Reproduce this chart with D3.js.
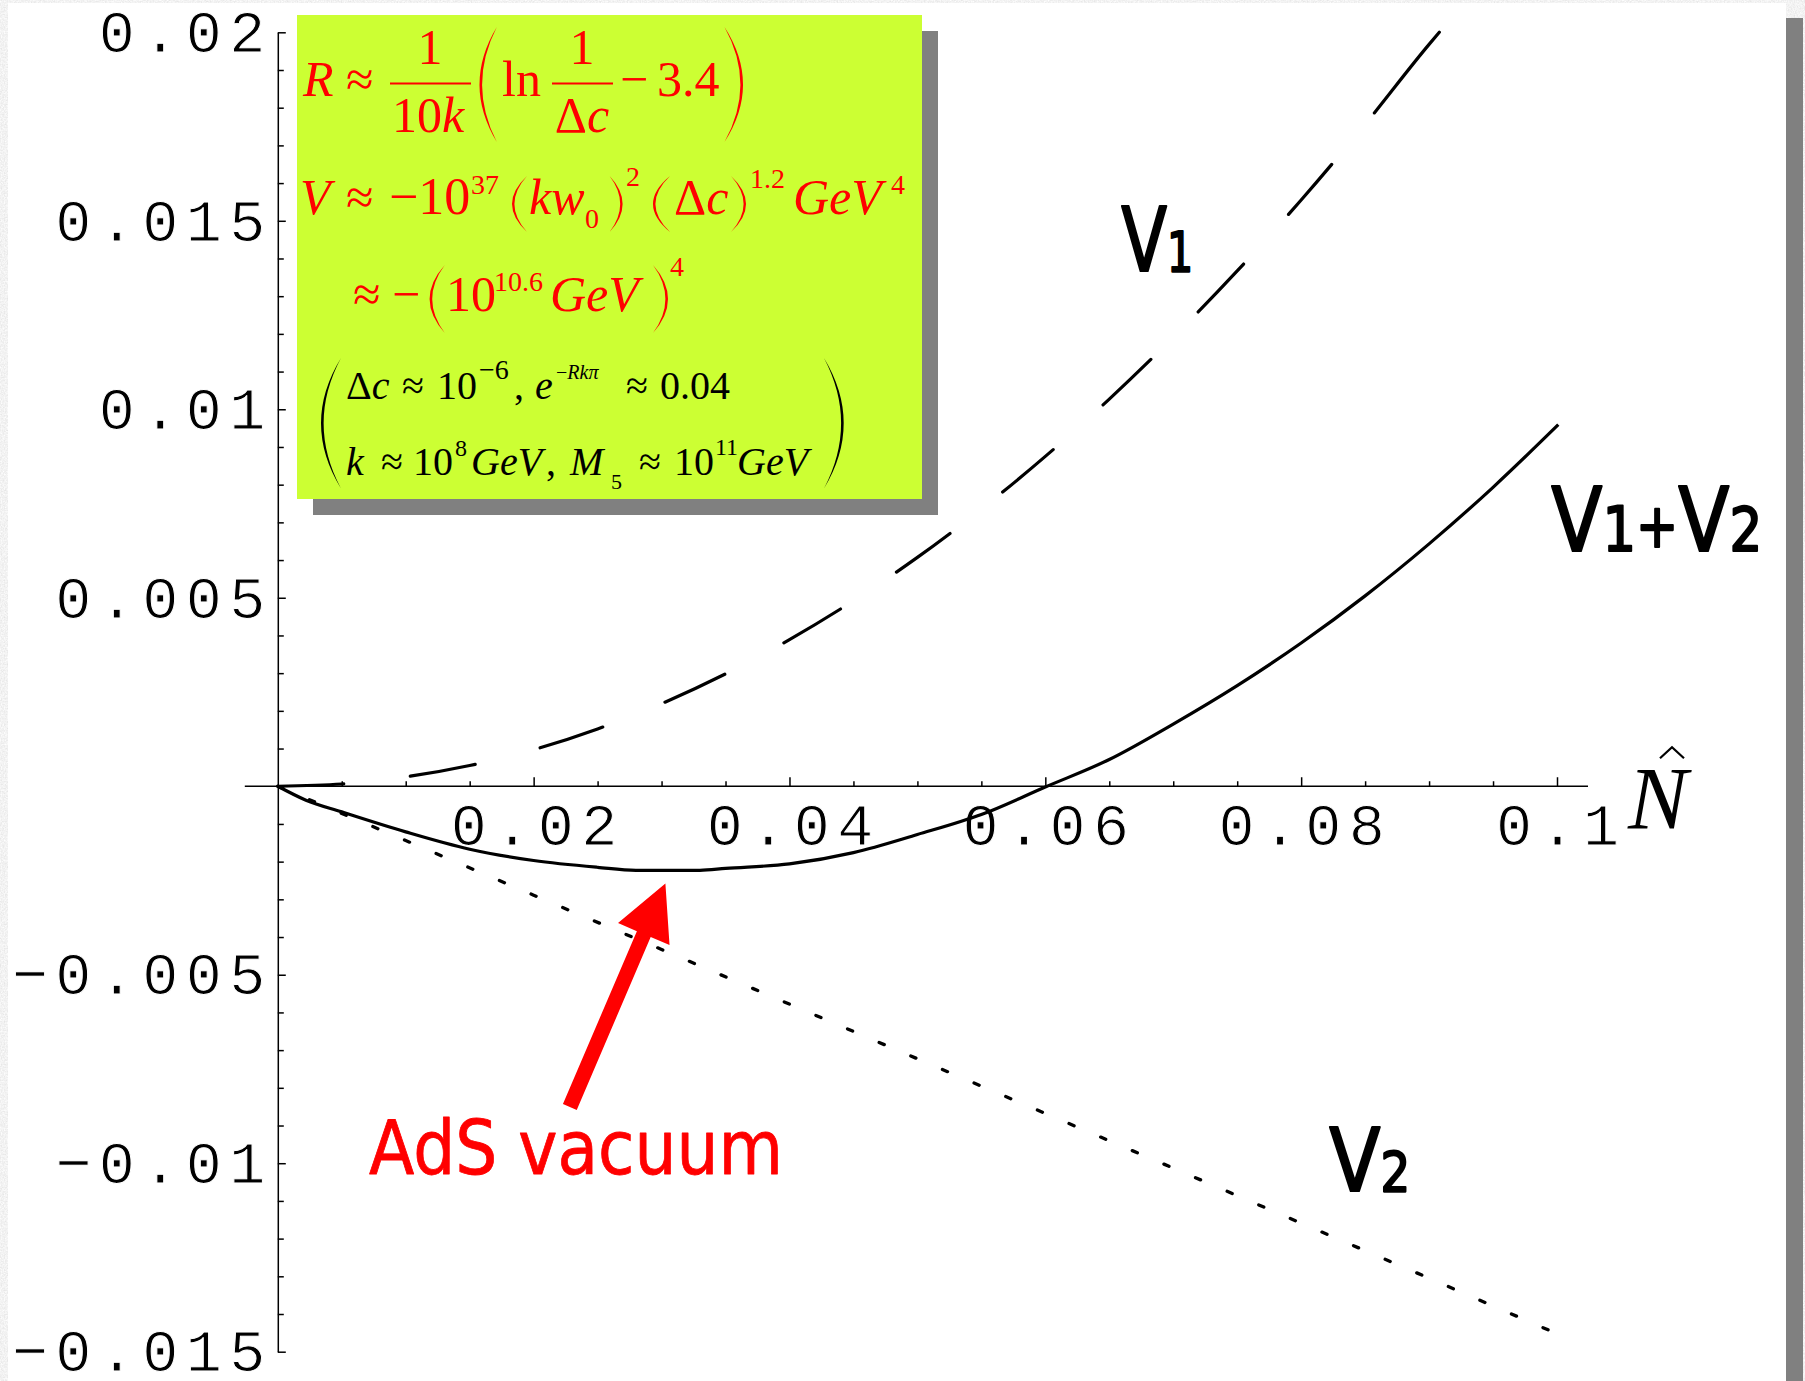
<!DOCTYPE html>
<html>
<head>
<meta charset="utf-8">
<script src="https://cdn.jsdelivr.net/npm/d3@7"></script>
<style>
  html, body { margin: 0; padding: 0; background: #e6e6e6; }
  svg { display: block; }
</style>
</head>
<body>
<svg id="chart" width="1805" height="1381"></svg>
<script>
// values
var v1X = [0, 0.005, 0.01, 0.015, 0.02, 0.025, 0.03, 0.035, 0.04, 0.045, 0.05, 0.055, 0.06, 0.065, 0.07, 0.075, 0.08, 0.085, 0.09, 0.0908];
var v1Y = [0, 0.00006, 0.00025, 0.00055, 0.00097, 0.00152, 0.00219, 0.00298, 0.00389, 0.00492, 0.00607, 0.00735, 0.00875, 0.01027, 0.01191, 0.01367, 0.01555, 0.01756, 0.01968, 0.02];

var v2X = [0, 0.01, 0.02, 0.03, 0.04, 0.05, 0.06, 0.07, 0.08, 0.09, 0.0993];
var v2Y = [0, -0.00144, -0.00289, -0.00433, -0.00578, -0.00723, -0.00868, -0.01013, -0.01159, -0.01305, -0.01442];

var sumX = [0, 0.0022, 0.005, 0.01, 0.015, 0.02, 0.025, 0.028, 0.033, 0.035, 0.04, 0.045, 0.05, 0.055, 0.06, 0.065, 0.07, 0.075, 0.08, 0.085, 0.09, 0.095, 0.1001];
var sumY = [0, -0.00037, -0.00068, -0.00121, -0.00167, -0.00197, -0.00215, -0.00223, -0.00223, -0.00218, -0.00206, -0.00176, -0.00128, -0.00075, -0.00002, 0.00071, 0.00165, 0.00267, 0.0038, 0.00505, 0.00643, 0.00793, 0.00959];

var xTicks = [0.02, 0.04, 0.06, 0.08, 0.1];
var xTickLabels = ["0.02", "0.04", "0.06", "0.08", "0.1"];
var yTicks = [-0.015, -0.01, -0.005, 0.005, 0.01, 0.015, 0.02];
var yTickLabels = ["\u22120.015", "\u22120.01", "\u22120.005", "0.005", "0.01", "0.015", "0.02"];

var svg = d3.select("#chart");

var x = d3.scaleLinear().domain([0, 0.1]).range([277.8, 1557]);
var y = d3.scaleLinear().domain([-0.015, 0.02]).range([1351.7, 32.3]);

var monoFont = "'Liberation Mono', 'Courier New', monospace";
var serif = "'Liberation Serif', 'Times New Roman', serif";
var hand = "'Comic Sans MS', 'DejaVu Sans', sans-serif";

// font size that gives a glyph the ink height seen in the picture
var ctx = document.createElement("canvas").getContext("2d");
function sizeFor(glyph, font, style, inkHeight) {
  ctx.font = (style || "") + " 100px " + font;
  var m = ctx.measureText(glyph);
  var h = m.actualBoundingBoxAscent + m.actualBoundingBoxDescent;
  return h > 0 ? 100 * inkHeight / h : 100 * inkHeight / 70;
}

// page: textured border, grey shadow bar, white sheet
var defs = svg.append("defs");
var f = defs.append("filter").attr("id", "tex").attr("x", 0).attr("y", 0).attr("width", 1).attr("height", 1);
f.append("feTurbulence").attr("type", "fractalNoise").attr("baseFrequency", 0.7).attr("numOctaves", 2).attr("seed", 3);
f.append("feColorMatrix").attr("type", "matrix")
  .attr("values", "0.3 0 0 0 0.74  0.3 0 0 0 0.74  0.3 0 0 0 0.74  0 0 0 0 1");
svg.append("rect").attr("width", 1805).attr("height", 1381).attr("filter", "url(#tex)");
svg.append("rect").attr("x", 1786).attr("y", 18).attr("width", 17).attr("height", 1363).attr("fill", "#808080");
svg.append("rect").attr("x", 8).attr("y", 3).attr("width", 1778).attr("height", 1378).attr("fill", "#fff");

// tick label font: digit height about 41px, character pitch about 43.5px
var tickSize = Math.min(72, Math.max(55, sizeFor("0", monoFont, "", 41.5)));
ctx.font = tickSize + "px " + monoFont;
var adv = ctx.measureText("0").width;
var pitch = 43.5;

// y axis
var gy = svg.append("g").attr("transform", "translate(" + x(0) + ",0)");
gy.call(d3.axisLeft(y).tickValues(yTicks).tickSizeInner(-8).tickSizeOuter(0).tickPadding(12.5)
  .tickFormat(function(d, i) { return yTickLabels[i]; }));
gy.append("g").call(d3.axisLeft(y).tickValues(d3.range(-15, 21).map(function(d) { return d / 1000; })
    .filter(function(d) { return Math.abs(Math.round(d * 1000) % 5) !== 0; }))
  .tickSizeInner(-6).tickSizeOuter(0).tickFormat(""))
  .select(".domain").remove();

// x axis
var gx = svg.append("g").attr("transform", "translate(0," + y(0) + ")");
gx.call(d3.axisBottom(x).tickValues(xTicks).tickSizeInner(-9).tickSizeOuter(0)
  .tickFormat(function(d, i) { return xTickLabels[i]; }));
gx.select(".domain").remove();
gx.selectAll(".tick text").attr("y", 59).attr("dy", 0);
gx.append("g").call(d3.axisBottom(x).tickValues(d3.range(1, 20).map(function(d) { return d * 0.005; })
    .filter(function(d, i) { return (i + 1) % 4 !== 0; }))
  .tickSizeInner(-5).tickSizeOuter(0).tickFormat(""))
  .select(".domain").remove();
gx.append("line").attr("x1", x(0) - 33).attr("x2", x(0.1) + 31).attr("stroke", "#000").attr("stroke-width", 1.6);

[gx, gy].forEach(function(g) {
  g.attr("font-family", monoFont).attr("font-size", tickSize);
  // white outline thins the glyphs toward the light screen font of the original
  g.selectAll(".tick text").attr("fill", "#000").attr("stroke", "#fff").attr("stroke-width", 1)
    .attr("textLength", function() { return (this.textContent.length - 1) * pitch + adv; })
    .attr("lengthAdjust", "spacing");
  g.selectAll("line, path").attr("stroke", "#000").attr("stroke-width", 1.5);
});

// N hat
svg.append("text").attr("x", x(0.1) + 71).attr("y", y(0) + 42)
  .attr("font-family", serif).attr("font-style", "italic")
  .attr("font-size", sizeFor("N", serif, "italic", 59)).text("N");
svg.append("path").attr("d", "M" + (x(0.1) + 103) + "," + (y(0) - 28) + " l12,-11 l12,11")
  .attr("fill", "none").attr("stroke", "#000").attr("stroke-width", 2.2);

// curves
function series(xs, ys) { return xs.map(function(d, i) { return [d, ys[i]]; }); }
var line = d3.line().x(function(d) { return x(d[0]); }).y(function(d) { return y(d[1]); });

var v2Path = svg.append("path").datum(series(v2X, v2Y)).attr("d", line.curve(d3.curveLinear))
  .attr("fill", "none").attr("stroke", "#000").attr("stroke-width", 3.3)
  .attr("stroke-linecap", "round");
var v1Path = svg.append("path").datum(series(v1X, v1Y)).attr("d", line.curve(d3.curveMonotoneX))
  .attr("fill", "none").attr("stroke", "#000").attr("stroke-width", 3.2)
  .attr("stroke-linecap", "round");
svg.append("path").datum(series(sumX, sumY)).attr("d", line.curve(d3.curveMonotoneX))
  .attr("fill", "none").attr("stroke", "#000").attr("stroke-width", 3.2);

// dotted V2: a dot sits at each end of the line
(function() {
  var L = v2Path.node().getTotalLength(), n = Math.round((L - 5.5) / 34), p = (L - 5.5) / n;
  v2Path.attr("stroke-dasharray", "5.5," + (p - 5.5));
})();
// dashed V1: the last dash runs to the end of the curve
(function() {
  var L = v1Path.node().getTotalLength(), n = Math.floor(L / 133), arr = [];
  for (var i = 0; i < n; i++) arr.push(66, 67);
  var r = L - n * 133;
  if (r > 30) arr.push(r + 2, 200);
  v1Path.attr("stroke-dasharray", arr.join(","));
})();

// curve labels: [text, ink height or fixed size, dy]
function label(sub, px, py, w, color, sw) {
  var c = color || "#000";
  var t = svg.append("text").attr("x", x(px)).attr("y", y(py)).attr("font-family", hand)
    .attr("fill", c).attr("stroke", c).attr("stroke-width", sw).attr("stroke-linejoin", "round")
    .attr("textLength", w).attr("lengthAdjust", "spacingAndGlyphs");
  sub.forEach(function(s) {
    var size = s[0] === "+" ? s[1] : sizeFor(s[0].charAt(0), hand, "", s[1]);
    var tp = t.append("tspan").attr("font-size", size).text(s[0]);
    if (s[2]) tp.attr("dy", s[2]);
  });
  return t;
}
label([["V", 65], ["1", 40]], 0.06593, 0.01368, 72, "#000", 2.2);
label([["V", 65], ["1", 46], ["+", 60, -4], ["V", 65, 4], ["2", 46]], 0.09955, 0.00624, 211, "#000", 2.2);
label([["V", 64], ["2", 41]], 0.0822, -0.01073, 81, "#000", 2.2);
label([["AdS vacuum", 54]], 0.00713, -0.01028, 414, "#ff0000", 0.8);

// arrow to the minimum
var arrowTail = [0.02283, -0.00851], arrowTip = [0.0303, -0.00258];
(function() {
  var T = [x(arrowTail[0]), y(arrowTail[1])], P = [x(arrowTip[0]), y(arrowTip[1])];
  var dx = P[0] - T[0], dy = P[1] - T[1], L = Math.sqrt(dx * dx + dy * dy);
  var u = [dx / L, dy / L], n = [-u[1], u[0]];
  var B = [P[0] - 55 * u[0], P[1] - 55 * u[1]];
  function pt(p, k) { return [p[0] + k * n[0], p[1] + k * n[1]]; }
  var pts = [pt(T, -7.5), pt(B, -7.5), pt(B, -28), P, pt(B, 28), pt(B, 7.5), pt(T, 7.5)];
  svg.append("polygon").attr("points", pts.map(function(p) { return p.join(","); }).join(" ")).attr("fill", "#ff0000");
})();

// formula box
svg.append("rect").attr("x", 313).attr("y", 31).attr("width", 625).attr("height", 484).attr("fill", "#808080");
svg.append("rect").attr("x", 297).attr("y", 15).attr("width", 625).attr("height", 484).attr("fill", "#ccff33");

var box = svg.append("g");
function piece(parts, px, py, size, color, anchor) {
  var t = box.append("text").attr("x", px).attr("y", py).attr("font-family", serif)
    .attr("font-size", size).attr("fill", color).attr("text-anchor", anchor || "start");
  parts.forEach(function(p) {
    t.append("tspan").attr("font-style", p[1] ? "italic" : "normal").text(p[0]);
  });
}
function paren(x0, x1, y0, y1, right, color, th) {
  var ym = (y0 + y1) / 2, d;
  if (!right) {
    d = "M" + x1 + "," + y0 + " Q" + (2 * x0 - x1) + "," + ym + " " + x1 + "," + y1 +
        " Q" + (2 * x0 - x1 + 2 * th) + "," + ym + " " + x1 + "," + y0 + "Z";
  } else {
    d = "M" + x0 + "," + y0 + " Q" + (2 * x1 - x0) + "," + ym + " " + x0 + "," + y1 +
        " Q" + (2 * x1 - x0 - 2 * th) + "," + ym + " " + x0 + "," + y0 + "Z";
  }
  box.append("path").attr("d", d).attr("fill", color);
}
var red = "#ff0000";

// line 1
piece([["R", 1]], 303, 96, 50, red);
piece([["\u2248", 0]], 346, 96, 50, red);
piece([["1", 0]], 430, 64, 50, red, "middle");
box.append("line").attr("x1", 390).attr("x2", 471).attr("y1", 83.5).attr("y2", 83.5).attr("stroke", red).attr("stroke-width", 2);
piece([["10", 0], ["k", 1]], 428, 131.5, 50, red, "middle");
paren(479.5, 496.8, 27, 142, false, red, 2.6);
piece([["ln", 0]], 502, 96, 50, red);
piece([["1", 0]], 582, 64, 50, red, "middle");
box.append("line").attr("x1", 552).attr("x2", 613).attr("y1", 83.5).attr("y2", 83.5).attr("stroke", red).attr("stroke-width", 2);
piece([["\u0394", 0], ["c", 1]], 582, 131.5, 50, red, "middle");
piece([["\u2212", 0]], 620, 96, 50, red);
piece([["3.4", 0]], 657, 96, 50, red);
paren(724.5, 743, 27, 142, true, red, 2.6);

// line 2
piece([["V", 1]], 300, 214, 50, red);
piece([["\u2248", 0]], 346, 214, 50, red);
piece([["\u221210", 0]], 389, 214, 52, red);
piece([["37", 0]], 471, 194, 28, red);
paren(512, 527, 176, 232, false, red, 2.4);
piece([["kw", 1]], 529, 214, 50, red);
piece([["0", 0]], 585, 228, 28, red);
paren(609.6, 622.6, 176, 232, true, red, 2.4);
piece([["2", 0]], 626, 186, 28, red);
paren(653, 670, 176, 232, false, red, 2.4);
piece([["\u0394", 0], ["c", 1]], 674, 214, 50, red);
paren(731, 746, 176, 232, true, red, 2.4);
piece([["1.2", 0]], 750, 188, 28, red);
piece([["GeV", 1]], 793, 214, 50, red);
piece([["4", 0]], 891, 194, 28, red);

// line 3
piece([["\u2248", 0]], 353, 311, 50, red);
piece([["\u2212", 0]], 392, 311, 50, red);
paren(429.6, 444.8, 265, 333, false, red, 2.6);
piece([["10", 0]], 446, 311, 50, red);
piece([["10.6", 0]], 494, 291, 28, red);
piece([["GeV", 1]], 550, 311, 50, red);
paren(653, 668, 265, 333, true, red, 2.6);
piece([["4", 0]], 670, 275.5, 28, red);

// lines 4 and 5
var blk = "#000";
paren(321, 341, 358, 488.5, false, blk, 2.6);
piece([["\u0394", 0], ["c", 1]], 346, 399, 40, blk);
piece([["\u2248", 0]], 402, 399, 40, blk);
piece([["10", 0]], 437, 399, 40, blk);
piece([["\u22126", 0]], 479, 378.6, 28, blk);
piece([[",", 0]], 514, 399, 40, blk);
piece([["e", 1]], 535, 399, 40, blk);
piece([["\u2212", 0], ["Rk\u03c0", 1]], 556, 378.6, 20, blk);
piece([["\u2248", 0]], 626, 399, 40, blk);
piece([["0.04", 0]], 660, 399, 40, blk);

piece([["k", 1]], 346, 475, 40, blk);
piece([["\u2248", 0]], 381, 475, 40, blk);
piece([["10", 0]], 413, 475, 40, blk);
piece([["8", 0]], 455, 456, 24, blk);
piece([["GeV", 1]], 471, 475, 40, blk);
piece([[",", 0]], 546, 475, 40, blk);
piece([["M", 1]], 570, 475, 40, blk);
piece([["5", 0]], 611, 488.5, 22, blk);
piece([["\u2248", 0]], 639, 475, 40, blk);
piece([["10", 0]], 674, 475, 40, blk);
piece([["11", 0]], 715, 455, 24, blk);
piece([["GeV", 1]], 737, 475, 40, blk);
paren(824, 843.7, 358, 488.5, true, blk, 2.6);
</script>
</body>
</html>
